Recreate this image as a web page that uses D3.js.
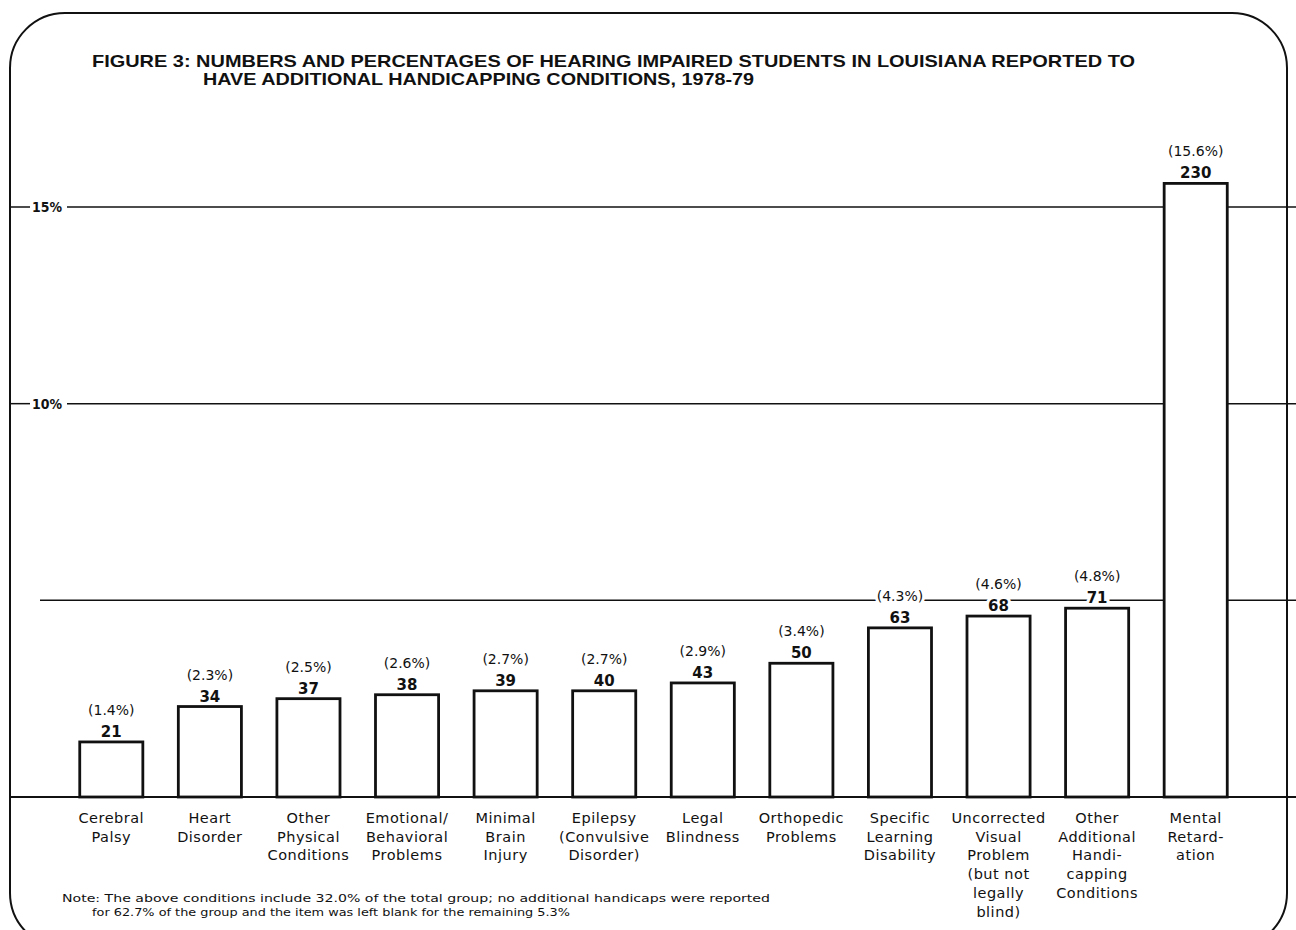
<!DOCTYPE html>
<html>
<head>
<meta charset="utf-8">
<script src="https://cdn.jsdelivr.net/npm/d3@7"></script>
<style>
  html, body { margin: 0; padding: 0; background: #fff; }
  svg { display: block; }
</style>
</head>
<body>
<svg id="chart" width="1296" height="930"></svg>
<script>
// Additional handicapping conditions among hearing impaired students, Louisiana 1978-79
const categories = [
  "Cerebral Palsy", "Heart Disorder", "Other Physical Conditions",
  "Emotional/Behavioral Problems", "Minimal Brain Injury",
  "Epilepsy (Convulsive Disorder)", "Legal Blindness", "Orthopedic Problems",
  "Specific Learning Disability", "Uncorrected Visual Problem (but not legally blind)",
  "Other Additional Handicapping Conditions", "Mental Retardation"
];
const labelLines = [
  ["Cerebral", "Palsy"],
  ["Heart", "Disorder"],
  ["Other", "Physical", "Conditions"],
  ["Emotional/", "Behavioral", "Problems"],
  ["Minimal", "Brain", "Injury"],
  ["Epilepsy", "(Convulsive", "Disorder)"],
  ["Legal", "Blindness"],
  ["Orthopedic", "Problems"],
  ["Specific", "Learning", "Disability"],
  ["Uncorrected", "Visual", "Problem", "(but not", "legally", "blind)"],
  ["Other", "Additional", "Handi-", "capping", "Conditions"],
  ["Mental", "Retard-", "ation"]
];
const counts   = [21, 34, 37, 38, 39, 40, 43, 50, 63, 68, 71, 230];
const percents = [1.4, 2.3, 2.5, 2.6, 2.7, 2.7, 2.9, 3.4, 4.3, 4.6, 4.8, 15.6];
const gridTicks = [5, 10, 15];
const tickLabels = ["", "10%", "15%"];

const titleLines = [
  "FIGURE 3:  NUMBERS AND PERCENTAGES OF HEARING IMPAIRED STUDENTS IN LOUISIANA REPORTED TO",
  "HAVE ADDITIONAL HANDICAPPING CONDITIONS, 1978-79"
];
const noteLines = [
  "Note:  The above conditions include 32.0% of the total group; no  additional handicaps were reported",
  "for 62.7% of the group and the item was left blank for the remaining 5.3%"
];

const data = categories.map((c, i) => ({
  name: c, lines: labelLines[i], count: counts[i], pct: percents[i]
}));

const svg = d3.select("#chart");
const W = 1296;

const x = d3.scaleBand()
  .domain(categories)
  .range([62, 1245])
  .paddingInner(0.36)
  .paddingOuter(0.18);

const y = d3.scaleLinear().domain([0, 15]).range([797, 207]);

const ink = "#111";
const bodyFont = "'DejaVu Sans', 'Noto Sans', sans-serif";
const titleFont = "'Liberation Sans Narrow', 'Arial Narrow', 'Liberation Sans', Arial, sans-serif";

// Rounded frame
svg.append("rect")
  .attr("x", 10).attr("y", 13)
  .attr("width", 1277).attr("height", 935)
  .attr("rx", 55).attr("ry", 55)
  .attr("fill", "none")
  .attr("stroke", ink)
  .attr("stroke-width", 2);

// Title
const title = svg.append("g")
  .attr("font-family", titleFont)
  .attr("font-weight", "bold")
  .attr("font-size", 17)
  .attr("fill", ink);
title.append("text")
  .attr("x", 92).attr("y", 67)
  .attr("textLength", 1043)
  .attr("lengthAdjust", "spacingAndGlyphs")
  .text(titleLines[0]);
title.append("text")
  .attr("x", 203).attr("y", 85)
  .attr("textLength", 551)
  .attr("lengthAdjust", "spacingAndGlyphs")
  .text(titleLines[1]);

// Horizontal gridlines with percent labels on the left
const grid = svg.append("g");
gridTicks.forEach((t, i) => {
  const gy = y(t);
  const lab = tickLabels[i];
  if (lab) {
    grid.append("line")
      .attr("x1", 10).attr("x2", 30).attr("y1", gy).attr("y2", gy)
      .attr("stroke", ink).attr("stroke-width", 1.5);
    grid.append("text")
      .attr("x", 32).attr("y", gy + 5)
      .attr("font-family", bodyFont)
      .attr("font-size", 14)
      .attr("font-weight", "bold")
      .attr("fill", ink)
      .attr("textLength", 30)
      .attr("lengthAdjust", "spacingAndGlyphs")
      .text(lab);
    grid.append("line")
      .attr("x1", 67).attr("x2", W).attr("y1", gy).attr("y2", gy)
      .attr("stroke", ink).attr("stroke-width", 1.5);
  } else {
    grid.append("line")
      .attr("x1", 40).attr("x2", W).attr("y1", gy).attr("y2", gy)
      .attr("stroke", ink).attr("stroke-width", 1.5);
  }
});

// Baseline
svg.append("line")
  .attr("x1", 10).attr("x2", W)
  .attr("y1", y(0)).attr("y2", y(0))
  .attr("stroke", ink).attr("stroke-width", 1.8);

// Bars
svg.append("g").selectAll("rect")
  .data(data)
  .join("rect")
  .attr("x", d => x(d.name))
  .attr("y", d => y(d.pct))
  .attr("width", x.bandwidth())
  .attr("height", d => y(0) - y(d.pct))
  .attr("fill", "#fff")
  .attr("stroke", ink)
  .attr("stroke-width", 2.8);

// Value labels: count just above bar, percentage above that
const vals = svg.append("g")
  .attr("font-family", bodyFont)
  .attr("text-anchor", "middle")
  .attr("fill", ink)
  .attr("stroke", "#fff")
  .attr("stroke-width", 6)
  .attr("paint-order", "stroke");

vals.selectAll("text.count")
  .data(data)
  .join("text")
  .attr("class", "count")
  .attr("x", d => x(d.name) + x.bandwidth() / 2)
  .attr("y", d => y(d.pct) - 5)
  .attr("font-size", 15)
  .attr("font-weight", "bold")
  .text(d => d.count);

vals.selectAll("text.pct")
  .data(data)
  .join("text")
  .attr("class", "pct")
  .attr("x", d => x(d.name) + x.bandwidth() / 2)
  .attr("y", d => y(d.pct) - 27)
  .attr("font-size", 14)
  .text(d => `(${d.pct.toFixed(1)}%)`);

// Category labels under the baseline
const cats = svg.append("g")
  .attr("font-family", bodyFont)
  .attr("font-size", 14.5)
  .attr("letter-spacing", 0.5)
  .attr("text-anchor", "middle")
  .attr("fill", ink);

data.forEach(d => {
  const cx = x(d.name) + x.bandwidth() / 2;
  d.lines.forEach((ln, j) => {
    cats.append("text")
      .attr("x", cx)
      .attr("y", 823 + j * 18.7)
      .text(ln);
  });
});

// Footnote
const note = svg.append("g")
  .attr("font-family", bodyFont)
  .attr("font-size", 10.5)
  .attr("fill", ink);
note.append("text")
  .attr("x", 62).attr("y", 902)
  .attr("textLength", 708)
  .attr("lengthAdjust", "spacingAndGlyphs")
  .text(noteLines[0]);
note.append("text")
  .attr("x", 92).attr("y", 916)
  .attr("textLength", 478)
  .attr("lengthAdjust", "spacingAndGlyphs")
  .text(noteLines[1]);
</script>
</body>
</html>
